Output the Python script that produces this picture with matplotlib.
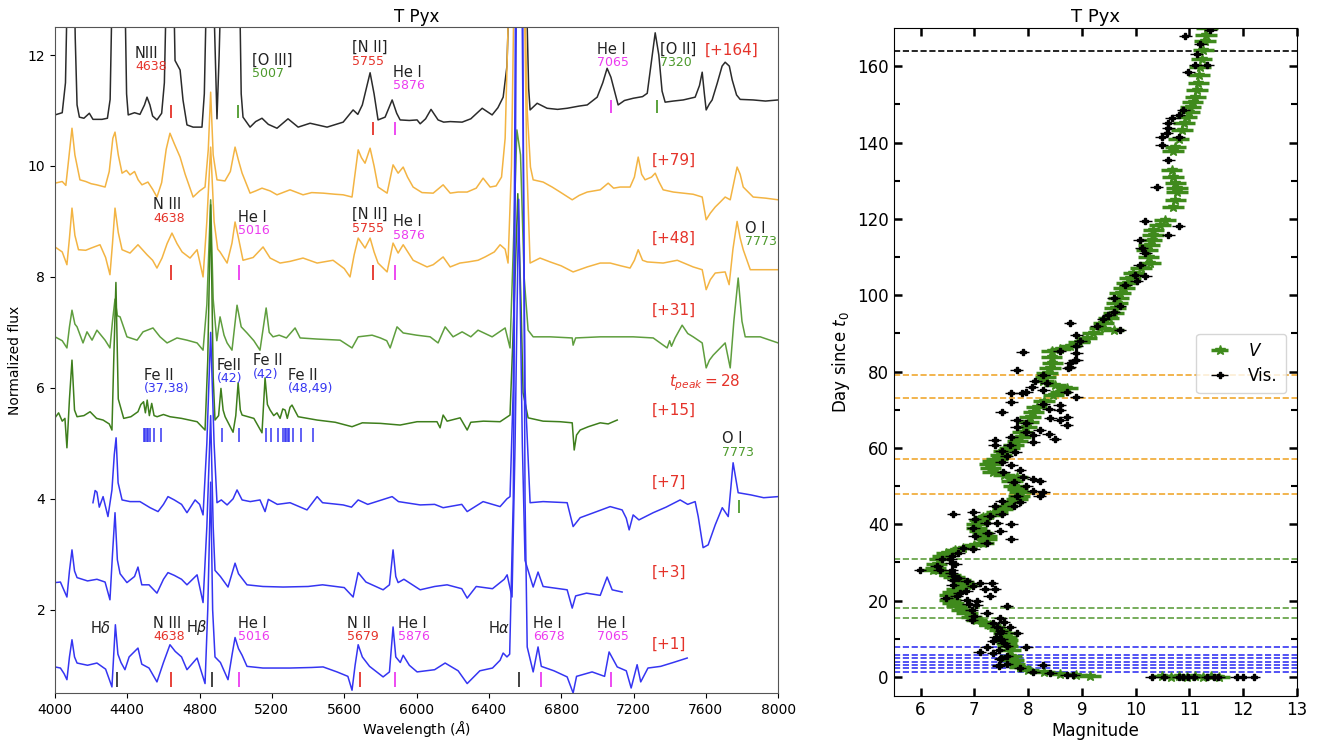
import numpy as np
import matplotlib.pyplot as plt

# ---------------- spectra (wavelength in A, offset normalized flux) ----------------
spec_164 = [(4000,10.92),(4040,10.96),(4058,11.5),(4070,13.5),(4100,14.5),(4112,12.3),(4122,11.1),(4135,10.88),
            (4160,10.86),(4190,10.95),(4210,10.84),(4260,10.84),(4290,10.86),(4305,11.2),(4318,13.5),(4340,14.5),
            (4385,13.5),(4396,11.3),(4405,10.92),(4440,10.96),(4470,10.93),(4495,11.1),(4509,11.24),(4525,11.1),
            (4540,10.9),(4564,10.83),(4590,10.95),(4605,11.5),(4618,13.5),(4640,14.5),(4655,13.5),(4664,11.9),
            (4692,11.73),(4708,11.19),(4730,10.74),(4764,10.70),(4813,10.70),(4826,11.3),(4840,13.5),(4861,14.5),
            (4880,12.8),(4896,10.85),(4908,12.0),(4920,13.5),(4959,14.5),(5007,14.5),(5020,13.5),(5030,11.3),
            (5040,10.88),(5079,10.70),(5110,10.8),(5145,10.86),(5180,10.75),(5228,10.68),(5289,10.85),(5345,10.70),
            (5411,10.77),(5505,10.70),(5594,10.79),(5649,11.01),(5675,10.93),(5700,11.1),(5743,11.68),(5765,11.3),
            (5787,10.83),(5826,10.88),(5865,11.19),(5890,10.95),(5909,10.83),(5960,10.82),(6003,10.83),(6020,10.76),
            (6050,10.85),(6080,11.02),(6119,10.83),(6150,10.79),(6186,10.80),(6252,10.79),(6300,10.85),(6363,11.04),
            (6390,10.98),(6418,10.92),(6450,11.05),(6479,11.24),(6500,11.8),(6515,13.5),(6563,14.5),(6605,13.5),
            (6620,11.4),(6628,11.01),(6667,11.13),(6722,11.04),(6780,11.02),(6833,11.04),(6900,11.08),(6944,11.10),
            (6999,11.24),(7030,11.5),(7054,11.76),(7075,11.6),(7098,11.31),(7115,11.10),(7150,11.18),(7198,11.22),
            (7250,11.25),(7276,11.31),(7300,11.9),(7320,12.40),(7340,12.0),(7358,11.35),(7375,11.15),(7420,11.17),
            (7475,11.19),(7541,11.24),(7565,11.45),(7580,11.69),(7592,11.3),(7602,11.01),(7620,11.12),(7635,11.19),
            (7663,11.49),(7690,11.8),(7707,11.87),(7730,11.8),(7746,11.55),(7770,11.28),(7790,11.2),(7862,11.19),
            (7930,11.17),(8000,11.19)]

spec_79 = [(4000,9.69),(4040,9.72),(4060,9.65),(4075,10.1),(4094,10.68),(4110,10.2),(4138,9.75),(4170,9.72),
           (4200,9.68),(4230,9.66),(4277,9.62),(4300,9.9),(4320,10.5),(4332,10.61),(4350,10.2),(4371,9.87),
           (4395,9.92),(4415,9.84),(4440,9.90),(4460,9.75),(4481,9.66),(4514,9.71),(4540,9.58),(4564,9.44),
           (4590,9.70),(4615,10.3),(4636,10.59),(4660,10.4),(4692,10.16),(4720,9.85),(4764,9.44),(4800,9.55),
           (4830,9.62),(4848,10.3),(4861,11.33),(4875,10.2),(4896,9.75),(4940,9.73),(4970,9.9),(4996,10.34),
           (5015,10.1),(5035,9.87),(5079,9.51),(5110,9.55),(5145,9.60),(5190,9.55),(5228,9.48),(5300,9.57),
           (5372,9.48),(5420,9.52),(5483,9.51),(5550,9.49),(5594,9.48),(5643,9.44),(5677,10.29),(5695,10.15),
           (5715,10.05),(5743,10.32),(5765,10.0),(5787,9.62),(5837,9.51),(5870,10.02),(5898,9.87),(5926,9.98),
           (5950,9.8),(5981,9.62),(6030,9.52),(6092,9.51),(6147,9.66),(6186,9.51),(6230,9.53),(6280,9.53),
           (6330,9.6),(6368,9.78),(6407,9.62),(6440,9.64),(6470,9.80),(6490,10.5),(6510,13.0),(6540,14.5),
           (6590,14.5),(6612,11.0),(6630,9.98),(6645,9.75),(6700,9.71),(6750,9.62),(6794,9.53),(6861,9.39),
           (6900,9.47),(6944,9.53),(7016,9.57),(7060,9.69),(7090,9.6),(7126,9.62),(7181,9.62),(7205,9.80),
           (7226,10.16),(7245,9.85),(7264,9.75),(7300,9.80),(7320,9.87),(7340,9.72),(7364,9.57),(7420,9.53),
           (7475,9.51),(7530,9.49),(7580,9.44),(7602,9.03),(7625,9.15),(7652,9.26),(7680,9.35),(7707,9.44),
           (7735,9.39),(7755,9.70),(7773,9.98),(7790,9.85),(7807,9.62),(7862,9.44),(7930,9.42),(8000,9.39)]

spec_48 = [(4000,8.54),(4040,8.45),(4066,8.22),(4080,8.7),(4094,9.24),(4110,8.75),(4130,8.49),(4170,8.48),
           (4200,8.52),(4249,8.58),(4280,8.35),(4304,8.04),(4318,8.6),(4332,9.24),(4350,8.8),(4371,8.49),
           (4415,8.43),(4459,8.58),(4509,8.40),(4540,8.3),(4564,8.16),(4592,8.34),(4620,8.6),(4647,8.79),
           (4675,8.6),(4703,8.45),(4747,8.34),(4786,8.49),(4819,8.00),(4840,9.0),(4861,10.34),(4880,9.0),
           (4900,8.50),(4913,8.45),(4952,8.25),(4979,8.61),(4996,8.99),(5015,8.7),(5040,8.30),(5096,8.35),
           (5151,8.54),(5190,8.34),(5245,8.25),(5300,8.28),(5372,8.34),(5450,8.25),(5538,8.30),(5600,8.15),
           (5632,8.00),(5655,8.4),(5677,8.70),(5715,8.52),(5743,8.70),(5765,8.45),(5787,8.25),(5837,8.09),
           (5870,8.61),(5898,8.43),(5926,8.58),(5981,8.30),(6058,8.18),(6092,8.22),(6147,8.36),(6186,8.18),
           (6240,8.25),(6285,8.27),(6340,8.3),(6379,8.36),(6430,8.45),(6462,8.58),(6490,8.5),(6506,8.25),
           (6525,10.0),(6545,14.5),(6590,14.5),(6610,10.0),(6628,8.25),(6683,8.34),(6739,8.27),(6800,8.2),
           (6866,8.09),(6944,8.18),(7016,8.25),(7071,8.25),(7130,8.2),(7181,8.16),(7205,8.3),(7226,8.49),
           (7250,8.3),(7276,8.27),(7364,8.25),(7442,8.30),(7530,8.18),(7580,8.13),(7602,7.77),(7625,7.95),
           (7652,8.07),(7707,8.09),(7729,7.86),(7750,8.5),(7773,9.0),(7790,8.7),(7807,8.49),(7846,8.13),
           (7920,8.13),(8000,8.13)]

spec_31 = [(4000,6.92),(4040,6.85),(4066,6.72),(4080,7.1),(4094,7.40),(4110,7.15),(4122,7.10),(4155,6.81),
           (4177,7.01),(4205,6.86),(4232,7.04),(4277,6.86),(4304,6.72),(4318,7.2),(4332,7.6),(4345,7.3),
           (4360,7.28),(4398,6.92),(4454,6.86),(4487,7.01),(4542,7.08),(4581,6.92),(4620,6.81),(4675,6.90),
           (4730,6.86),(4786,6.81),(4819,6.68),(4840,7.5),(4861,9.39),(4875,7.6),(4895,6.85),(4913,7.28),
           (4935,6.95),(4952,6.81),(4979,6.68),(5007,7.49),(5030,7.1),(5062,6.99),(5100,6.85),(5134,6.68),
           (5168,7.44),(5185,7.0),(5206,6.92),(5240,6.95),(5280,6.9),(5328,7.08),(5356,6.90),(5450,6.88),
           (5577,6.86),(5643,6.72),(5677,6.92),(5754,6.95),(5800,6.9),(5835,6.85),(5854,6.72),(5892,7.10),
           (5926,6.99),(6000,6.95),(6075,6.92),(6119,6.81),(6158,7.10),(6202,6.92),(6252,7.01),(6300,6.92),
           (6340,7.04),(6418,6.92),(6490,7.08),(6517,6.72),(6535,8.5),(6555,10.65),(6575,10.2),(6595,8.0),
           (6617,7.04),(6645,6.92),(6739,6.92),(6861,6.90),(6866,6.77),(6880,6.9),(7016,6.92),(7198,6.92),
           (7309,6.90),(7386,6.72),(7400,6.85),(7410,6.75),(7430,6.9),(7469,7.13),(7500,6.98),(7530,6.92),
           (7580,6.81),(7602,6.36),(7620,6.5),(7641,6.59),(7707,6.81),(7735,6.36),(7755,7.2),(7779,7.98),
           (7800,7.2),(7818,6.92),(7901,6.92),(8000,6.81)]

spec_15 = [(4000,5.46),(4020,5.55),(4040,5.40),(4055,5.45),(4066,4.92),(4080,5.8),(4094,6.50),(4108,5.6),
           (4122,5.48),(4160,5.50),(4194,5.57),(4230,5.45),(4266,5.42),(4300,5.35),(4315,5.24),(4325,6.5),
           (4337,7.9),(4350,5.8),(4380,5.45),(4420,5.48),(4459,5.57),(4475,5.70),(4490,5.75),(4500,5.55),
           (4510,5.78),(4522,5.5),(4535,5.72),(4548,5.5),(4565,5.48),(4600,5.52),(4636,5.48),(4700,5.45),
           (4786,5.39),(4830,5.24),(4845,6.5),(4861,9.3),(4875,6.2),(4885,5.42),(4905,5.5),(4918,5.99),
           (4930,5.6),(4941,5.48),(4985,5.20),(5000,5.5),(5013,6.09),(5025,5.6),(5035,5.51),(5100,5.45),
           (5145,5.19),(5162,6.18),(5175,5.7),(5190,5.60),(5210,5.5),(5228,5.55),(5245,5.45),(5260,5.62),
           (5273,5.60),(5285,5.45),(5300,5.65),(5311,5.69),(5345,5.48),(5450,5.42),(5550,5.38),(5643,5.30),
           (5700,5.37),(5800,5.36),(5909,5.33),(6003,5.39),(6113,5.39),(6130,5.28),(6147,5.51),(6169,5.40),
           (6241,5.46),(6280,5.24),(6300,5.38),(6370,5.40),(6462,5.39),(6517,5.51),(6540,7.5),(6560,9.5),
           (6578,7.5),(6589,5.91),(6617,5.46),(6700,5.40),(6794,5.39),(6861,5.37),(6872,4.88),(6885,5.15),
           (6905,5.24),(6950,5.30),(7016,5.37),(7060,5.35),(7088,5.39),(7110,5.42)]

spec_7 = [(4210,3.93),(4222,4.15),(4232,4.12),(4245,3.85),(4266,4.04),(4293,3.68),(4315,4.16),(4328,4.8),
          (4338,5.1),(4349,4.29),(4371,3.98),(4415,3.95),(4470,3.95),(4526,3.84),(4570,3.77),(4600,3.9),
          (4625,4.04),(4660,3.98),(4700,3.90),(4730,3.75),(4775,3.98),(4800,3.9),(4819,3.71),(4840,5.0),
          (4861,7.0),(4880,5.0),(4896,3.93),(4920,3.98),(4952,3.89),(4985,4.0),(5007,4.16),(5035,3.98),
          (5080,3.95),(5134,3.98),(5162,3.77),(5180,3.99),(5230,3.90),(5300,3.93),(5394,3.80),(5450,4.04),
          (5480,3.93),(5594,3.89),(5640,3.85),(5677,3.98),(5730,3.9),(5865,4.04),(5900,3.95),(6020,3.89),
          (6100,3.90),(6147,3.84),(6250,3.90),(6280,3.77),(6368,3.95),(6462,3.86),(6500,4.0),(6517,4.04),
          (6535,6.0),(6550,14.5),(6580,14.5),(6600,6.0),(6628,3.93),(6700,3.95),(6833,3.93),(6866,3.50),
          (6905,3.66),(6980,3.75),(7071,3.86),(7137,3.80),(7160,3.65),(7176,3.44),(7198,3.71),(7230,3.62),
          (7309,3.75),(7380,3.85),(7458,3.98),(7500,3.90),(7541,3.95),(7558,3.68),(7585,3.12),(7613,3.17),
          (7652,3.53),(7691,3.84),(7724,3.68),(7751,4.65),(7779,4.11),(7850,4.07),(7920,4.02),(8000,4.04)]

spec_3 = [(4000,2.49),(4030,2.50),(4050,2.35),(4066,2.23),(4080,2.7),(4094,3.08),(4108,2.7),(4122,2.58),
          (4180,2.52),(4232,2.55),(4277,2.50),(4304,2.18),(4318,3.0),(4332,3.75),(4345,2.9),(4360,2.65),
          (4398,2.49),(4440,2.60),(4459,2.77),(4480,2.45),(4520,2.45),(4564,2.30),(4600,2.55),(4625,2.67),
          (4660,2.62),(4700,2.55),(4730,2.45),(4786,2.63),(4819,2.13),(4840,3.5),(4861,5.5),(4875,3.5),
          (4885,2.71),(4915,2.6),(4957,2.41),(4996,2.84),(5015,2.65),(5062,2.45),(5150,2.42),(5262,2.41),
          (5400,2.42),(5480,2.45),(5600,2.40),(5649,2.23),(5677,2.67),(5720,2.50),(5815,2.36),(5850,2.45),
          (5870,3.08),(5885,2.6),(5898,2.49),(5930,2.55),(6020,2.36),(6100,2.42),(6169,2.45),(6250,2.38),
          (6280,2.21),(6330,2.42),(6420,2.38),(6485,2.55),(6501,2.63),(6528,2.23),(6545,5.0),(6565,9.4),
          (6585,5.0),(6600,2.89),(6645,2.41),(6672,2.68),(6700,2.42),(6833,2.36),(6861,2.03),(6880,2.25),
          (6940,2.30),(7016,2.26),(7054,2.59),(7082,2.36),(7137,2.32)]

spec_1 = [(4000,0.97),(4030,0.95),(4050,0.85),(4066,0.74),(4080,1.15),(4094,1.46),(4108,1.15),(4122,1.04),
          (4180,1.00),(4232,1.04),(4280,0.93),(4315,0.61),(4325,1.2),(4334,1.73),(4348,1.2),(4365,1.05),
          (4387,0.92),(4410,1.15),(4459,1.31),(4480,1.02),(4520,0.95),(4564,0.70),(4600,1.05),(4636,1.37),
          (4665,1.25),(4700,1.15),(4730,0.92),(4786,1.13),(4830,0.67),(4845,2.0),(4861,4.3),(4872,2.0),
          (4885,1.15),(4915,1.05),(4957,0.74),(4980,1.2),(4996,1.50),(5015,1.30),(5035,1.18),(5062,0.98),
          (5150,0.95),(5300,0.95),(5420,0.96),(5483,0.97),(5560,0.88),(5620,0.80),(5643,0.55),(5660,1.0),
          (5677,1.37),(5700,1.15),(5740,0.98),(5815,0.79),(5850,0.88),(5870,1.69),(5885,1.15),(5910,1.05),
          (5926,1.18),(5960,1.00),(6003,0.88),(6100,0.92),(6158,1.04),(6230,0.90),(6280,0.67),(6350,0.90),
          (6420,0.95),(6462,1.09),(6479,1.22),(6500,1.15),(6515,1.2),(6535,4.0),(6555,14.5),(6585,14.5),
          (6600,4.0),(6612,1.33),(6645,0.88),(6672,1.33),(6690,0.98),(6760,0.9),(6833,0.79),(6866,0.50),
          (6885,0.80),(6971,0.88),(7040,0.80),(7065,1.24),(7110,0.97),(7160,0.90),(7187,0.59),(7220,1.01),
          (7240,0.70),(7280,0.95),(7350,0.98),(7420,1.05),(7497,1.13)]

epoch_labels = ['[+164]', '[+79]', '[+48]', '[+31]', '[+15]', '[+7]', '[+3]', '[+1]']
epoch_label_x = [7596, 7303, 7303, 7303, 7303, 7303, 7303, 7303]
epoch_label_y = [12.09, 10.11, 8.70, 7.40, 5.60, 4.29, 2.67, 1.37]

# line identifications: (wavelength, flux, name, id, id colour)
line_ids = [
    (4443, 12.03, 'NIII', '4638', 'r'), (5090, 11.90, '[O III]', '5007', 'g'),
    (5643, 12.13, '[N II]', '5755', 'r'), (5870, 11.69, 'He I', '5876', 'm'),
    (6999, 12.10, 'He I', '7065', 'm'), (7348, 12.10, '[O II]', '7320', 'g'),
    (4542, 9.30, 'N III', '4638', 'r'), (5013, 9.08, 'He I', '5016', 'm'),
    (5643, 9.12, '[N II]', '5755', 'r'), (5870, 8.99, 'He I', '5876', 'm'),
    (7818, 8.88, 'O I', '7773', 'g'), (7690, 5.08, 'O I', '7773', 'g'),
    (4542, 1.75, 'N III', '4638', 'r'), (5013, 1.75, 'He I', '5016', 'm'),
    (5616, 1.75, 'N II', '5679', 'r'), (5898, 1.75, 'He I', '5876', 'm'),
    (6645, 1.75, 'He I', '6678', 'm'), (6999, 1.75, 'He I', '7065', 'm'),
    (4492, 6.23, 'Fe II', '(37,38)', 'b'), (4896, 6.40, 'FeII', '(42)', 'b'),
    (5096, 6.49, 'Fe II', '(42)', 'b'), (5289, 6.23, 'Fe II', '(48,49)', 'b'),
]
h_ids = [(4194, 1.68, r'H$\delta$'), (4725, 1.68, r'H$\beta$'), (6396, 1.68, r'H$\alpha$')]

# marker ticks: (wavelength, flux bottom, flux top, colour)
id_ticks = [
    (4642, 10.86, 11.10, 'r'), (5011, 10.86, 11.10, 'g'), (5760, 10.56, 10.79, 'r'), (5881, 10.56, 10.79, 'm'),
    (7075, 10.95, 11.19, 'm'), (7329, 10.95, 11.19, 'g'),
    (4640, 7.94, 8.21, 'r'), (5020, 7.94, 8.21, 'm'), (5760, 7.94, 8.21, 'r'), (5881, 7.94, 8.21, 'm'),
    (7785, 3.75, 3.98, 'g'),
    (4341, 0.60, 0.88, 'k'), (4640, 0.60, 0.88, 'r'), (4867, 0.60, 0.88, 'k'), (5020, 0.60, 0.88, 'm'),
    (5688, 0.60, 0.88, 'r'), (5881, 0.60, 0.88, 'm'), (6569, 0.60, 0.88, 'k'), (6688, 0.60, 0.88, 'm'),
    (7075, 0.60, 0.88, 'm'),
]
fe2_lines = [4491, 4500, 4508, 4516, 4523, 4549, 4584, 4924, 5018, 5169, 5197, 5234, 5262, 5272,
             5280, 5289, 5297, 5317, 5363, 5425]

# ---------------- light curve ----------------
v_mag = [10.5, 10.65, 10.8, 10.95, 11.1, 11.25, 11.4, 11.55,
         9.15, 8.9, 8.6, 8.3, 8.0, 7.85, 7.75, 7.72, 7.68, 7.66, 7.62, 7.6, 7.62, 7.6, 7.55, 7.48, 7.38, 7.29,
         7.15, 7.04, 6.95, 6.86, 6.76, 6.67, 6.6, 6.55, 6.55, 6.6, 6.67, 6.8, 6.86, 6.8, 6.73, 6.62, 6.55, 6.4,
         6.24, 6.28, 6.30, 6.36, 6.42, 6.48, 6.65, 6.79, 7.0, 7.17, 7.23, 7.23, 7.15, 7.10, 7.04, 7.04, 7.1,
         7.17, 7.3, 7.42, 7.52, 7.60, 7.7, 7.79, 7.83, 7.85, 7.8, 7.73, 7.7, 7.79, 7.55, 7.35, 7.3, 7.29, 7.35,
         7.42, 7.5, 7.54, 7.65, 7.73, 7.8, 7.85, 7.9, 7.97, 8.0, 8.04, 8.1, 8.16, 8.3, 8.47, 8.6, 8.72, 8.5,
         8.28, 8.32, 8.35, 8.41, 8.45, 8.44, 8.44, 8.6, 8.78, 8.95, 9.09, 9.2, 9.34, 9.59, 9.4, 9.5, 9.59,
         9.62, 9.65, 9.68, 9.71, 9.78, 9.84, 9.9, 9.96, 10.1, 10.27, 10.24, 10.21, 10.25, 10.30, 10.32, 10.33,
         10.45, 10.55, 10.7, 10.74, 10.77, 10.77, 10.74, 10.7, 10.67, 10.7, 10.74, 10.8, 10.86, 10.9, 10.95,
         11.0, 11.02, 11.06, 11.11, 11.14, 11.17, 11.18, 11.20, 11.23, 11.26, 11.29, 11.31, 11.33]
v_day = [0.2, 0.1, 0.2, 0.1, 0.2, 0.1, 0.2, 0.1,
         0.3, 0.5, 0.8, 1.2, 1.8, 2.6, 3.5, 4.4, 5.5, 7.0, 8.0, 8.8, 9.7, 10.5, 11.4, 12.3, 13.0, 13.6,
         14.3, 14.9, 15.8, 16.7, 17.6, 18.5, 19.3, 20.2, 21.5, 22.3, 22.9, 23.6, 24.2, 24.9, 25.5, 26.2, 26.8, 27.4,
         27.9, 28.6, 29.5, 30.8, 31.6, 32.5, 33.2, 33.8, 34.5, 35.2, 36.0, 36.9, 37.6, 38.2, 39.0, 40.0, 41.0,
         41.8, 42.5, 43.1, 44.0, 44.8, 45.7, 46.6, 47.5, 48.4, 49.3, 50.1, 51.2, 52.3, 53.0, 53.6, 54.7, 55.8, 56.5,
         57.1, 58.2, 59.3, 60.0, 60.7, 61.8, 62.9, 64.2, 65.5, 66.8, 68.1, 69.5, 70.8, 72.3, 73.8, 74.7, 75.6, 76.5,
         77.4, 78.5, 79.6, 81.0, 82.2, 83.8, 85.3, 86.0, 86.6, 87.7, 88.8, 90.0, 91.4, 91.0, 92.7, 94.0, 95.3,
         96.6, 97.9, 99.2, 100.5, 101.9, 103.2, 104.5, 105.8, 107.0, 108.4, 110.0, 111.9, 113.2, 114.5, 115.8, 117.1,
         118.4, 119.7, 123.2, 125.0, 127.1, 128.2, 129.3, 131.0, 132.8, 137.8, 138.9, 141.0, 143.3, 145.0, 146.7,
         148.0, 149.4, 150.7, 152.0, 153.8, 155.5, 157.6, 159.8, 162.0, 164.2, 166.5, 168.2, 169.9]

vis_mag = [10.30, 10.52, 10.80, 10.89, 10.98, 11.08, 11.33, 11.45, 11.54, 11.88, 12.0, 12.2,
           8.72, 8.84, 8.41, 8.10, 7.85, 8.28, 7.60, 7.48, 7.35, 7.10, 7.23, 7.97, 7.79, 7.48, 7.66, 7.35,
           7.48, 7.23, 7.60, 7.04, 6.86, 6.67, 6.48, 7.29, 6.73, 7.20, 7.38, 6.98, 7.32, 7.10, 6.86, 6.61, 6.70,
           6.58, 6.36, 5.99, 6.30, 6.58, 6.39, 6.58, 6.70, 6.79, 6.98, 7.23, 7.69, 7.01, 7.48, 7.26, 6.98, 7.69,
           7.42, 7.23, 7.01, 7.51, 7.29, 6.98, 6.61, 7.38, 7.73, 7.85, 7.51, 7.79, 8.22, 8.28, 8.10, 7.97, 8.22,
           8.10, 7.73, 7.91, 7.85, 7.54, 7.69, 7.51, 7.60, 7.76, 7.51, 8.10, 7.66, 7.38, 7.69, 7.38, 8.50, 8.10,
           7.97, 8.38, 8.22, 7.79, 7.97, 8.72, 8.59, 7.79, 8.41, 8.72, 7.51, 8.38, 8.59, 8.28, 8.59, 7.69, 8.90,
           8.72, 7.88, 7.69, 7.97, 8.28, 8.07, 8.35, 8.13, 8.28, 7.79, 8.78, 8.87, 8.75, 8.78, 8.90, 8.90, 7.90,
           8.59, 8.90, 8.97, 8.90, 8.78, 9.71, 9.28, 9.40, 9.49, 9.59, 9.71, 9.59, 9.81, 10.02, 9.99, 10.18, 10.08,
           10.18, 10.11, 10.08, 10.61, 10.80, 10.18, 10.39, 10.61, 10.49, 10.80, 10.49, 10.58, 10.61, 10.61, 10.67,
           10.80, 10.89, 10.98, 11.33, 11.11, 11.14, 11.20, 10.92, 11.39,
           7.45, 7.5, 7.45, 7.55, 7.5, 7.4, 7.6, 7.5, 7.42, 7.55, 7.35, 7.6, 7.45,
           6.6, 6.62, 6.58, 6.65, 6.55, 6.9, 6.95, 7.0, 6.85, 7.05, 6.95]
vis_day = [0.0, 0.0, 0.0, 0.0, 0.0, 0.0, 0.0, 0.0, 0.0, 0.0, 0.0, 0.0,
           0.4, 0.4, 0.9, 1.3, 2.2, 3.1, 3.5, 4.8, 6.2, 6.6, 7.9, 7.9, 11.4, 11.4, 13.2, 14.1,
           15.4, 16.7, 18.5, 18.9, 20.2, 21.1, 20.7, 21.1, 22.0, 22.9, 23.0, 23.7, 24.6, 24.6, 25.1, 25.5, 25.9,
           27.3, 28.1, 28.0, 29.0, 29.9, 30.8, 31.6, 32.5, 33.8, 33.4, 35.2, 36.0, 36.9, 38.2, 37.8, 39.1, 40.0,
           40.4, 40.4, 41.3, 42.6, 42.2, 43.1, 42.8, 44.8, 44.8, 45.7, 46.2, 47.5, 47.5, 48.4, 48.8, 50.1, 51.4,
           51.9, 51.0, 52.3, 54.1, 53.6, 55.4, 56.3, 58.0, 58.9, 59.3, 61.5, 60.7, 60.7, 62.9, 62.0, 62.4, 63.3,
           64.2, 63.7, 64.6, 65.5, 66.4, 65.9, 67.3, 67.3, 67.7, 68.1, 69.5, 70.3, 69.9, 71.6, 71.2, 72.1, 73.4,
           74.7, 74.3, 74.3, 74.7, 75.2, 76.0, 76.9, 77.4, 79.1, 80.3, 81.3, 83.1, 80.9, 82.2, 83.1, 84.8, 85.0,
           85.3, 86.6, 87.9, 89.6, 92.7, 91.0, 91.8, 93.7, 94.9, 95.7, 97.1, 99.2, 102.7, 103.6, 105.3, 104.9, 108.0,
           111.0, 112.3, 114.5, 115.8, 118.0, 119.5, 128.4, 135.4, 139.3, 141.5, 141.5, 142.4, 143.7, 145.0, 146.3,
           147.2, 148.5, 158.5, 160.3, 160.3, 163.3, 165.9, 167.8, 169.4,
           3.0, 5.0, 7.0, 9.0, 10.0, 10.5, 8.0, 12.0, 13.0, 14.5, 9.5, 5.5, 2.8,
           24.0, 26.5, 28.0, 29.5, 31.0, 19.0, 17.5, 16.0, 22.5, 20.0, 15.0]

spec_lines_164 = [164]
spec_lines_orange = [79, 73, 57, 48]
spec_lines_green = [31, 18, 15.5]
spec_lines_blue = [7.7, 5.8, 4.9, 4.0, 3.1, 2.3, 1.4]

# ---------------- style ----------------
C_BLACK = '#2b2b2b'
C_ORANGE = '#f3b443'
C_GREEN = '#5f9e3e'
C_DGREEN = '#3e7e1c'
C_BLUE = '#3535f2'
txt_col = {'r': '#e5332a', 'g': '#4d9a2c', 'm': '#ec3cf0', 'b': '#3535f2', 'k': '#333333'}

plt.rcParams['font.family'] = ['DejaVu Sans']
fig = plt.figure(figsize=(13.22, 7.43), dpi=100)
ax = fig.add_axes([0.0416, 0.0673, 0.547, 0.896])
ax2 = fig.add_axes([0.676, 0.0633, 0.305, 0.899])

# ---------------- left: spectra ----------------
for spec, col in [(spec_164, C_BLACK), (spec_79, C_ORANGE), (spec_48, C_ORANGE), (spec_31, C_GREEN),
                  (spec_15, C_DGREEN), (spec_7, C_BLUE), (spec_3, C_BLUE), (spec_1, C_BLUE)]:
    w, f = np.array(spec).T
    ax.plot(w, f, color=col, lw=1.1)

for lab, xx, yy in zip(epoch_labels, epoch_label_x, epoch_label_y):
    ax.text(xx, yy, lab, color=txt_col['r'], fontsize=11, ha='left', va='center')
ax.text(7397, 6.09, r'$t_{peak} = 28$', color=txt_col['r'], fontsize=11, ha='left', va='center')

for w, y, name, num, c in line_ids:
    ax.text(w, y, name, fontsize=10.5, color='#222222', ha='left', va='center')
    ax.text(w, y - 0.24, num, fontsize=9, color=txt_col[c], ha='left', va='center')
for w, y, name in h_ids:
    ax.text(w, y, name, fontsize=10.5, color='#222222', ha='left', va='center')

for w, y0, y1, c in id_ticks:
    ax.vlines(w, y0, y1, color=txt_col[c], lw=1.3)
ax.vlines(fe2_lines, 5.03, 5.28, color=txt_col['b'], lw=1.1)

ax.set_xlim(4000, 8000)
ax.set_ylim(0.5, 12.5)
ax.set_xticks(np.arange(4000, 8001, 400))
ax.set_yticks([2, 4, 6, 8, 10, 12])
ax.tick_params(labelsize=10)
ax.set_xlabel(r'Wavelength ($\AA$)', fontsize=10, labelpad=2)
ax.set_ylabel('Normalized flux', fontsize=10)
ax.set_title('T Pyx', fontsize=12, pad=4)
for sp in ax.spines.values():
    sp.set_color('#555555')

# ---------------- right: light curve ----------------
for d in spec_lines_164:
    ax2.axhline(d, color='k', ls='--', lw=1.2, zorder=1)
for d in spec_lines_orange:
    ax2.axhline(d, color='#f0a830', ls='--', lw=1.2, zorder=1)
for d in spec_lines_green:
    ax2.axhline(d, color=C_GREEN, ls='--', lw=1.2, zorder=1)
for d in spec_lines_blue:
    ax2.axhline(d, color=C_BLUE, ls='--', lw=1.2, zorder=1)

ax2.errorbar(v_mag, v_day, xerr=0.2, fmt='*', color='#3f8a1c', ms=7, elinewidth=2.5,
             capsize=0, label='$V$', zorder=2)
ax2.errorbar(vis_mag, vis_day, xerr=0.12, fmt='P', color='k', ms=4.5, elinewidth=1.0,
             capsize=0, label='Vis.', zorder=3)

ax2.set_xlim(5.5, 13)
ax2.set_ylim(-5, 170)
ax2.set_xticks(range(6, 14))
ax2.set_yticks(range(0, 161, 20))
ax2.set_yticks(range(10, 170, 20), minor=True)
ax2.tick_params(which='both', direction='in', top=True, right=True, labelsize=12)
ax2.tick_params(which='major', length=6, width=1.8)
ax2.tick_params(which='minor', length=4, width=1.5)
ax2.set_xlabel('Magnitude', fontsize=12, labelpad=2)
ax2.set_ylabel(r'Day since $t_0$', fontsize=12)
ax2.set_title('T Pyx', fontsize=13, pad=4)
ax2.legend(loc='upper left', bbox_to_anchor=(0.73, 0.555), fontsize=12, handlelength=1.8,
           borderpad=0.5, labelspacing=0.4)

fig.savefig('out.png', dpi=100)
